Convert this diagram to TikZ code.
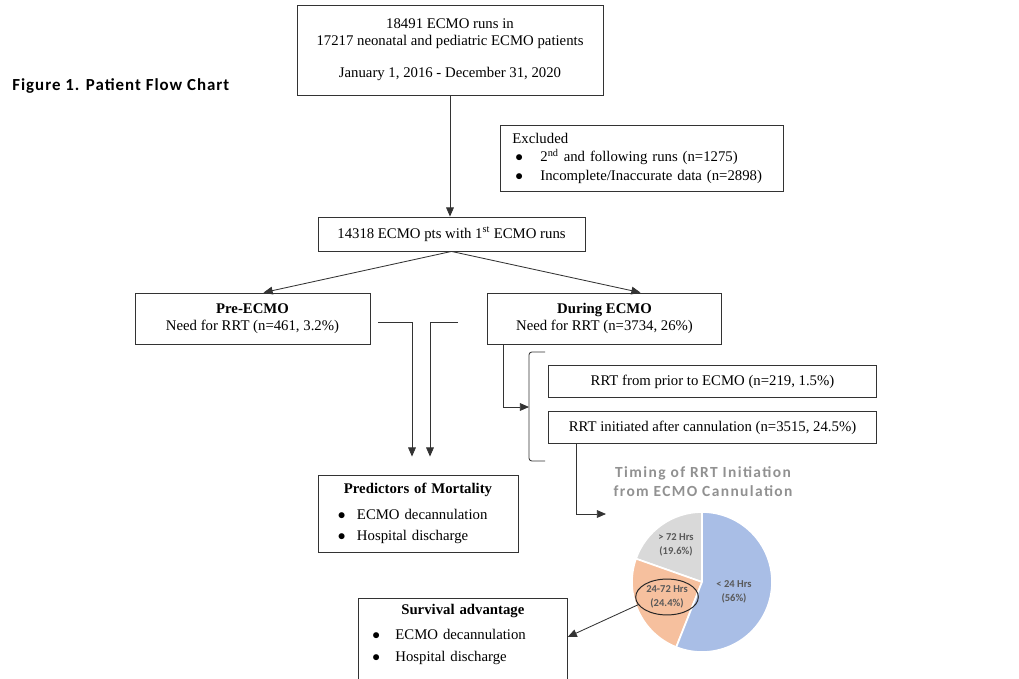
\documentclass[tikz,border=0pt]{standalone}
\usepackage{fontspec}
\setmainfont{Liberation Serif}
\newfontfamily\calib{Carlito}
\newfontfamily\calibsp[LetterSpace=9]{Carlito}
\newfontfamily\figfont[LetterSpace=6]{Carlito}
\usetikzlibrary{arrows.meta, positioning, shapes.geometric}
\definecolor{pieblue}{HTML}{A9BEE6}
\definecolor{pieorange}{HTML}{F6C09E}
\definecolor{piegray}{HTML}{D9D9D9}
\definecolor{titlegray}{RGB}{145,145,145}
\newcommand{\bitem}[2][0.5cm]{\makebox[#1][l]{$\bullet$}#2}
\tikzset{
  box/.style={
    rectangle, draw=black!80, line width=0.6pt, align=center, inner sep=2pt,
    font=\fontsize{10.5}{12}\selectfont
  },
  listbox/.style={
    box, align=left, inner xsep=0.3cm, inner ysep=0.15cm
  },
  arrow/.style={
    -{Triangle[length=6.5pt,width=5.5pt]}, line width=0.6pt, draw=black!80
  },
  wire/.style={
    line width=0.6pt, draw=black!80
  },
  slice/.style={
    draw=white, line width=1.2pt
  },
  pielabel/.style={
    align=center, inner sep=1pt, text=black!65,
    font=\calib\bfseries\fontsize{7.5}{10}\selectfont
  }
}
\begin{document}
\begin{tikzpicture}[x=0.025cm, y=-0.025cm]
  \useasboundingbox (0,0) rectangle (1019,678);

  % Title
  \node[anchor=west, inner sep=0, font=\figfont\bfseries\fontsize{12}{14}\selectfont] (figtitle) at (12,86) {Figure 1. Patient Flow Chart};

  % Cohort boxes
  \node[box, minimum width=7.65cm, minimum height=2.25cm] (runs) at (450,50)
    {18491 ECMO runs in\\17217 neonatal and pediatric ECMO patients\\[11pt]January 1, 2016 - December 31, 2020};
  \node[listbox, anchor=north west, text width=6.475cm, minimum height=1.65cm,
    font=\fontsize{10.5}{13}\selectfont] (excl) at (500,125)
    {Excluded\\
     \hspace{0.075cm}\bitem[0.625cm]{2\textsuperscript{nd} and following runs (n=1275)}\\
     \hspace{0.075cm}\bitem[0.625cm]{Incomplete/Inaccurate data (n=2898)}};
  \node[box, minimum width=6.675cm, minimum height=0.85cm] (pts) at (451.5,234)
    {14318 ECMO pts with 1\textsuperscript{st} ECMO runs};

  % Timing of RRT
  \node[box, minimum width=5.875cm, minimum height=1.275cm] (pre) at (252.5,318.5)
    {\textbf{Pre-ECMO}\\Need for RRT (n=461, 3.2\%)};
  \node[box, minimum width=5.85cm, minimum height=1.275cm] (during) at (604.5,318.5)
    {\textbf{During ECMO}\\Need for RRT (n=3734, 26\%)};
  \node[box, minimum width=8.2cm, minimum height=0.8cm] (prior) at (712.5,381.5)
    {RRT from prior to ECMO (n=219, 1.5\%)};
  \node[box, minimum width=8.2cm, minimum height=0.8cm] (init) at (712.5,427.5)
    {RRT initiated after cannulation (n=3515, 24.5\%)};

  % Outcomes
  \node[listbox, text width=4.4cm, minimum height=1.925cm,
    font=\fontsize{10.5}{15}\selectfont] (pred) at (418,513.5)
    {{\centering\textbf{Predictors of Mortality}\par}\vspace{3pt}
     \hspace{0.2cm}\bitem[0.475cm]{ECMO decannulation}\\
     \hspace{0.2cm}\bitem[0.475cm]{Hospital discharge}};
  \node[listbox, anchor=north west, text width=4.62cm,
    font=\fontsize{10.5}{15}\selectfont] (surv) at (358,598)
    {{\centering\textbf{Survival advantage}\par}\vspace{3pt}
     \hspace{0.05cm}\bitem[0.575cm]{ECMO decannulation}\\
     \hspace{0.05cm}\bitem[0.575cm]{Hospital discharge}\rule[-0.8cm]{0pt}{0.8cm}};

  % Pie chart
  \node[font=\calibsp\bfseries\fontsize{11}{13.5}\selectfont, text=titlegray, align=center] (pietitle) at (703,482)
    {Timing of RRT Initiation\\from ECMO Cannulation};
  \coordinate (pie) at (702,582);
  \filldraw[slice, fill=piegray] (pie) -- ++(90:1.75cm) arc[start angle=90, end angle=160.56, radius=1.75cm] -- cycle;
  \filldraw[slice, fill=pieorange] (pie) -- ++(160.56:1.75cm) arc[start angle=160.56, end angle=248.4, radius=1.75cm] -- cycle;
  \filldraw[slice, fill=pieblue] (pie) -- ++(248.4:1.75cm) arc[start angle=248.4, end angle=450, radius=1.75cm] -- cycle;
  \node[pielabel] (lab3) at (676,545) {> 72 Hrs\\(19.6\%)};
  \node[pielabel, ellipse, draw=black!85, line width=0.7pt, minimum width=1.475cm, minimum height=0.825cm] (lab2) at (667,597) {24-72 Hrs\\(24.4\%)};
  \node[pielabel] (lab1) at (734,592) {< 24 Hrs\\(56\%)};

  % Connectors
  \draw[arrow] (runs.south) -- (runs.south |- pts.north);
  \draw[arrow] (pts.south) -- ([xshift=0.275cm]pre.north);
  \draw[arrow] (pts.south) -- ([xshift=0.9cm]during.north);
  \coordinate (preout) at (378,322);
  \coordinate (durout) at (458,322);
  \draw[arrow] (preout) -| ([xshift=-0.15cm, yshift=0.45cm]pred.north);
  \draw[arrow] (durout) -| ([xshift=0.3cm, yshift=0.45cm]pred.north);
  \draw[wire, rounded corners=2pt] (545,352) -- (529,352) -- (529,461) -- (545,461);
  \coordinate (brk) at (529,407);
  \draw[arrow] ([xshift=0.4cm]during.south west) |- (brk);
  \coordinate (piein) at (606,514);
  \draw[arrow] ([xshift=0.7cm]init.south west) |- (piein);
  \coordinate (survin) at ([yshift=-0.975cm]surv.north east);
  \draw[arrow] (lab2.195) -- (survin);
\end{tikzpicture}
\end{document}
